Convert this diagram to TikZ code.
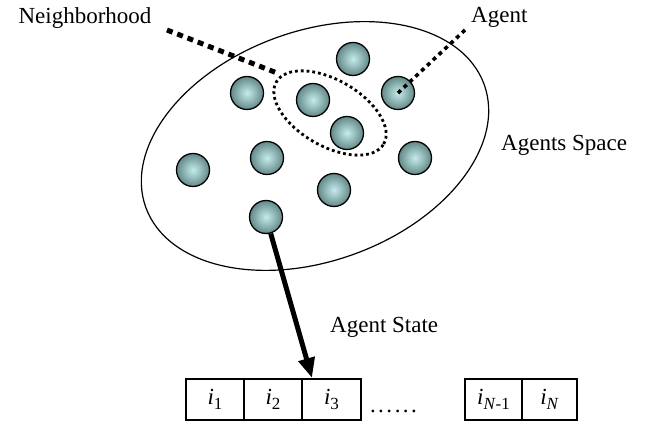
\documentclass[tikz,border=0pt]{standalone}
\usepackage{fontspec}
\setmainfont{Liberation Serif}
\usetikzlibrary{arrows.meta}
\definecolor{ballin}{RGB}{196,236,236}
\definecolor{ballout}{RGB}{100,136,136}
\newcommand{\subidx}[1]{\raisebox{-0.2em}{\fontsize{17}{17}\selectfont #1}}
\begin{document}
\begin{tikzpicture}[x=1pt,y=1pt,
  agent/.style={circle,draw=black,line width=1.3pt,minimum size=33pt,inner sep=0pt,
                shading=radial,inner color=ballin,outer color=ballout},
  lbl/.style={font=\fontsize{23}{27}\selectfont,inner sep=0pt},
  cell/.style={draw=black,line width=1.2pt,minimum height=41pt,inner sep=0pt,
               font=\fontsize{23}{27}\selectfont},
  nbline/.style={line width=5pt,dash pattern=on 6pt off 5pt},
  agline/.style={line width=3.6pt,dash pattern=on 4pt off 4pt},
  hood/.style={line width=2.8pt,dash pattern=on 2.8pt off 3pt},
]
\useasboundingbox (0,0) rectangle (652,425);

% agents space and neighbourhood
\draw[line width=1.2pt,rotate around={20:(315,279)}] (315,279) ellipse [x radius=180, y radius=115];
\draw[hood,rotate around={-30:(330,312)}] (330,312) ellipse [x radius=62, y radius=33];

% agents
\node[agent] (a1) at (353,366) {};
\node[agent] (a2) at (247,332) {};
\node[agent] (a3) at (313,325) {};
\node[agent] (a4) at (398,332) {};
\node[agent] (a5) at (347,292) {};
\node[agent] (a6) at (193,255) {};
\node[agent] (a7) at (267,267) {};
\node[agent] (a8) at (415,267) {};
\node[agent] (a9) at (334,235) {};
\node[agent] (a10) at (266,208) {};

% labels
\node[lbl] (tnb) at (85,407) {Neighborhood};
\node[lbl,anchor=west] (tag) at (471,408) {Agent};
\node[lbl,anchor=west] (tsp) at (501,280) {Agents Space};
\node[lbl,anchor=west] (tst) at (330,98) {Agent State};

% pointer lines
\coordinate (nbstart) at (167,395);
\coordinate (nbend) at (277,352);
\draw[nbline] (nbstart) -- (nbend);
\coordinate (agstart) at (465,395);
\draw[agline] (agstart) -- (a4.center);

% state vector
\node[cell,minimum width=58pt] (c1) at (215,25.5) {\textit{i}\subidx{1}};
\node[cell,minimum width=58pt] (c2) at (273,25.5) {\textit{i}\subidx{2}};
\node[cell,minimum width=59pt] (c3) at (331.5,25.5) {\textit{i}\subidx{3}};
\node[lbl] (dots) at (393.5,14) {\makebox[47pt]{.\hfill.\hfill.\hfill.\hfill.\hfill.}};
\node[cell,minimum width=57pt] (cn1) at (493.5,25.5) {\textit{i}\subidx{\textit{N}-1}};
\node[cell,minimum width=55pt] (cn) at (549.5,25.5) {\textit{i}\subidx{\textit{N}}};

% arrow to the state vector
\coordinate (tip) at (312,47);
\draw[line width=5pt,-{Triangle[length=20pt,width=16pt]}] (a10) -- (tip);
\end{tikzpicture}
\end{document}
